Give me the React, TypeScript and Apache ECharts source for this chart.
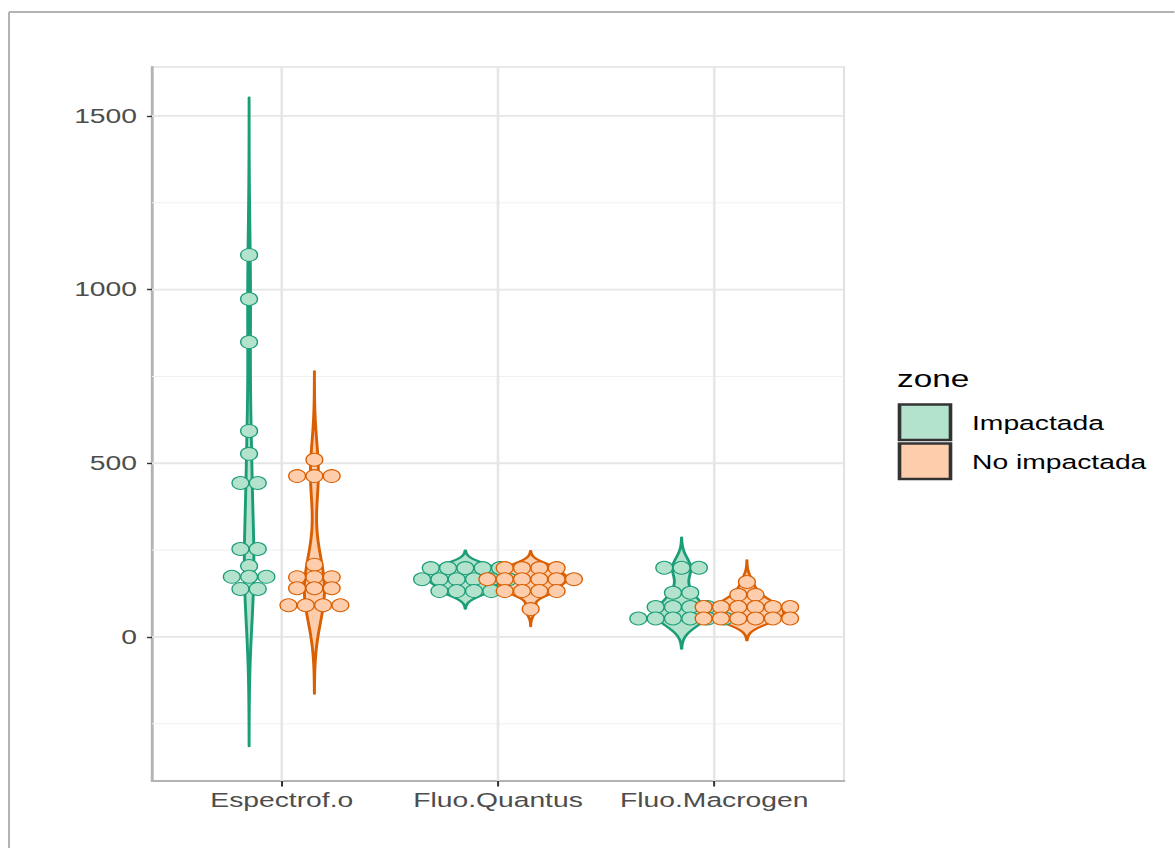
import React, { useEffect, useRef } from "react";
import * as echarts from "echarts";

// ---------------- data ----------------
const categories = ["Espectrof.o", "Fluo.Quantus", "Fluo.Macrogen"];
const zones = ["Impactada", "No impactada"];

// binned dot values (one entry per dot)
const espImpactada = [1100, 973, 849, 593, 527, 443, 443, 253, 253, 204, 173, 173, 173, 138, 138];
const espNoImpactada = [510, 463, 463, 463, 208, 172, 172, 172, 140, 140, 140, 91, 91, 91, 91];
const quantusImpactada = [198, 198, 198, 198, 198, 166, 166, 166, 166, 166, 166, 132, 132, 132, 132];
const quantusNoImpactada = [198, 198, 198, 198, 166, 166, 166, 166, 166, 166, 132, 132, 132, 132, 80];
const macrogenImpactada = [199, 199, 199, 127, 127, 86, 86, 86, 86, 53, 53, 53, 53, 53, 53];
const macrogenNoImpactada = [158, 121, 121, 86, 86, 86, 86, 86, 86, 53, 53, 53, 53, 53, 53];

// kernel bandwidths of the violins [Impactada, No impactada]
const espBandwidth = [151, 85];
const quantusBandwidth = [17, 16.5];
const macrogenBandwidth = [29, 21];

const yTicks = [0, 500, 1000, 1500];
const yMinorBreaks = [-250, 250, 750, 1250];
const xTicks = [1, 2, 3];

// ---------------- layout / style ----------------
const K = 1.45; // horizontal stretch of the reference picture
const W = 810;
const H = 848;
const sx = (x: number) => x / K;
const FONT = "'Liberation Sans', Arial, Helvetica, sans-serif";
const FS = 19.5;
const Y_MIN = -415;
const Y_MAX = 1641;
const DODGE = 0.151;
const DOT_STEP = 0.08;
const HALF_WIDTH = 0.175;
const darkColors = ["#1B9E77", "#D95F02"];
const lightColors = ["#B3E2CD", "#FDCDAC"];

type Group = { cat: number; zone: number; values: number[]; bw: number; dens: number[][] };

function kde(values: number[], bw: number, n = 512): number[][] {
  const lo = Math.min(...values) - 3 * bw;
  const hi = Math.max(...values) + 3 * bw;
  const out: number[][] = [];
  const norm = values.length * bw * Math.sqrt(2 * Math.PI);
  for (let i = 0; i < n; i++) {
    const y = lo + ((hi - lo) * i) / (n - 1);
    let d = 0;
    for (const v of values) {
      const z = (y - v) / bw;
      d += Math.exp(-0.5 * z * z);
    }
    out.push([y, d / norm]);
  }
  return out;
}

const rawGroups = [
  { cat: 0, zone: 0, values: espImpactada, bw: espBandwidth[0] },
  { cat: 0, zone: 1, values: espNoImpactada, bw: espBandwidth[1] },
  { cat: 1, zone: 0, values: quantusImpactada, bw: quantusBandwidth[0] },
  { cat: 1, zone: 1, values: quantusNoImpactada, bw: quantusBandwidth[1] },
  { cat: 2, zone: 0, values: macrogenImpactada, bw: macrogenBandwidth[0] },
  { cat: 2, zone: 1, values: macrogenNoImpactada, bw: macrogenBandwidth[1] },
];

const groups: Group[] = rawGroups.map((g) => ({ ...g, dens: kde(g.values, g.bw) }));
const maxDensity = Math.max(...groups.map((g) => Math.max(...g.dens.map((p) => p[1]))));
const centerX = (g: { cat: number; zone: number }) => g.cat + 1 + (g.zone === 0 ? -DODGE : DODGE);

function dotPoints(zone: number): number[][] {
  const pts: number[][] = [];
  groups
    .filter((g) => g.zone === zone)
    .forEach((g) => {
      const counts = new Map<number, number>();
      g.values.forEach((v) => counts.set(v, (counts.get(v) || 0) + 1));
      const cx = centerX(g);
      counts.forEach((n, v) => {
        for (let i = 0; i < n; i++) pts.push([cx + (i - (n - 1) / 2) * DOT_STEP, v]);
      });
    });
  return pts;
}

function hLineSeries(values: number[], color: string, width: number) {
  return {
    type: "custom",
    silent: true,
    data: values.map((v) => [1, v]),
    renderItem: (params: any, api: any) => {
      const cs = params.coordSys;
      const p = api.coord([1, api.value(1)]);
      return {
        type: "line",
        shape: { x1: cs.x, y1: p[1], x2: cs.x + cs.width, y2: p[1] },
        style: { stroke: color, lineWidth: width },
      };
    },
  };
}

function vLineSeries(values: number[], color: string, width: number) {
  return {
    type: "custom",
    silent: true,
    data: values.map((v) => [v, 0]),
    renderItem: (params: any, api: any) => {
      const cs = params.coordSys;
      const p = api.coord([api.value(0), 0]);
      return {
        type: "line",
        shape: { x1: p[0], y1: cs.y, x2: p[0], y2: cs.y + cs.height },
        style: { stroke: color, lineWidth: width },
      };
    },
  };
}

export default function App() {
  const ref = useRef<HTMLDivElement>(null);

  useEffect(() => {
    document.body.style.margin = "0";
    document.body.style.overflow = "hidden";
    const chart = echarts.init(ref.current!, null, { renderer: "svg" });
    const option: any = {
      animation: false,
      backgroundColor: "#ffffff",
      grid: {
        left: sx(152),
        top: 67,
        width: sx(844 - 152),
        height: 781 - 67,
        show: true,
        borderColor: "#e2e2e2",
        borderWidth: 1.5,
      },
      xAxis: {
        type: "value",
        min: 0.4,
        max: 3.6,
        axisLine: { show: true, onZero: false, lineStyle: { color: "#b3b3b3", width: 2 } },
        axisTick: { show: true, customValues: xTicks, length: 5.5, lineStyle: { color: "#333333", width: 1.4 } },
        axisLabel: {
          customValues: xTicks,
          formatter: (v: number) => categories[Math.round(v) - 1] ?? "",
          color: "#4d4d4d",
          fontSize: FS,
          fontFamily: FONT,
          margin: 9,
        },
        splitLine: { show: false },
      },
      yAxis: {
        type: "value",
        min: Y_MIN,
        max: Y_MAX,
        axisLine: { show: true, onZero: false, lineStyle: { color: "#b3b3b3", width: 2 } },
        axisTick: { show: true, customValues: yTicks, length: sx(5), lineStyle: { color: "#333333", width: 1.4 } },
        axisLabel: {
          customValues: yTicks,
          formatter: (v: number) => String(v),
          color: "#4d4d4d",
          fontSize: FS,
          fontFamily: FONT,
          margin: sx(15),
        },
        splitLine: { show: false },
      },
      series: [
        hLineSeries(yMinorBreaks, "#f0f0f0", 1),
        hLineSeries(yTicks, "#e6e6e6", 1.8),
        vLineSeries(xTicks, "#e6e6e6", 1.8),
        {
          type: "custom",
          name: "violins",
          silent: true,
          data: groups.map((g) => [centerX(g), g.values[0]]),
          renderItem: (params: any, api: any) => {
            const g = groups[params.dataIndex];
            const cx = centerX(g);
            const right = g.dens.map(([y, d]) => api.coord([cx + (d / maxDensity) * HALF_WIDTH, y]));
            const left = g.dens
              .slice()
              .reverse()
              .map(([y, d]) => api.coord([cx - (d / maxDensity) * HALF_WIDTH, y]));
            return {
              type: "polygon",
              shape: { points: right.concat(left) },
              style: { fill: lightColors[g.zone], stroke: darkColors[g.zone], lineWidth: 2, lineJoin: "round" },
            };
          },
        },
        ...zones.map((z, zi) => ({
          type: "scatter",
          name: z,
          silent: true,
          symbol: "circle",
          symbolSize: [11.6, 12.8],
          data: dotPoints(zi),
          itemStyle: { color: lightColors[zi], borderColor: darkColors[zi], borderWidth: 1, opacity: 1 },
        })),
      ],
      graphic: [
        { type: "line", shape: { x1: sx(9), y1: 12, x2: W + 20, y2: 12 }, style: { stroke: "#b3b3b3", lineWidth: 2 } },
        { type: "line", shape: { x1: sx(9), y1: 12, x2: sx(9), y2: H + 20 }, style: { stroke: "#b3b3b3", lineWidth: 1.4 } },
        {
          type: "text",
          x: sx(897),
          y: 379,
          style: { text: "zone", fontSize: 23, fontFamily: FONT, fill: "#000000", align: "left", verticalAlign: "middle" },
        },
        {
          type: "rect",
          shape: { x: sx(899.5), y: 404.5, width: sx(51), height: 35.5 },
          style: { fill: lightColors[0], stroke: "#333333", lineWidth: 2.5 },
        },
        {
          type: "rect",
          shape: { x: sx(899.5), y: 443.5, width: sx(51), height: 35.5 },
          style: { fill: lightColors[1], stroke: "#333333", lineWidth: 2.5 },
        },
        {
          type: "text",
          x: sx(972),
          y: 423,
          style: { text: zones[0], fontSize: FS, fontFamily: FONT, fill: "#000000", align: "left", verticalAlign: "middle" },
        },
        {
          type: "text",
          x: sx(972),
          y: 462,
          style: { text: zones[1], fontSize: FS, fontFamily: FONT, fill: "#000000", align: "left", verticalAlign: "middle" },
        },
      ],
    };
    chart.setOption(option);
    return () => chart.dispose();
  }, []);

  return (
    <div
      ref={ref}
      style={{
        position: "absolute",
        left: 0,
        top: 0,
        width: W,
        height: H,
        transform: `scaleX(${K})`,
        transformOrigin: "0 0",
      }}
    />
  );
}
